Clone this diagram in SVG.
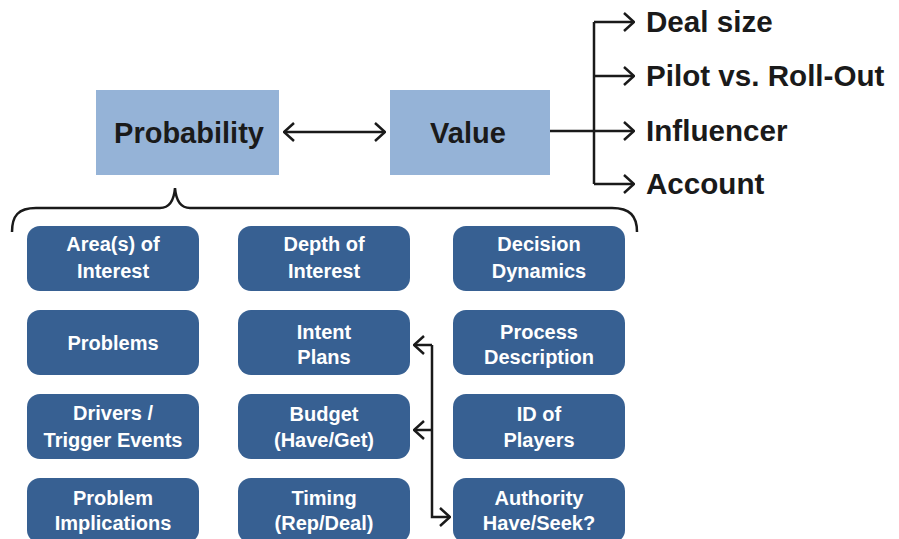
<svg xmlns="http://www.w3.org/2000/svg" width="899" height="539" viewBox="0 0 899 539">
<style>
.top{fill:#95b3d7}
.box{fill:#376092}
.t{font-family:"Liberation Sans",Arial,sans-serif;font-weight:bold;fill:#1a1a1a;font-size:29px}
.r{font-size:29.6px}
.bt{font-family:"Liberation Sans",Arial,sans-serif;font-weight:bold;fill:#ffffff;font-size:20px;text-anchor:middle}
.ln{fill:none;stroke:#1a1a1a;stroke-width:2.5}
</style>
<defs>
<marker id="ah" viewBox="0 0 12 20" refX="11" refY="10" markerWidth="12" markerHeight="20" markerUnits="userSpaceOnUse" orient="auto-start-reverse">
<path d="M1,1 L11,10 L1,19" fill="none" stroke="#1a1a1a" stroke-width="2.5"/>
</marker>
</defs>
<g id="probability"><rect class="top" x="96" y="90" width="183" height="85"/><text class="t" x="189" y="143" text-anchor="middle" font-size="30">Probability</text></g>
<g id="value"><rect class="top" x="390" y="90" width="160" height="85"/><text class="t" x="468" y="143" text-anchor="middle">Value</text></g>
<g id="deal-size"><text class="t r" x="646" y="32">Deal size</text></g>
<g id="pilot"><text class="t r" x="646" y="86">Pilot vs. Roll-Out</text></g>
<g id="influencer"><text class="t r" x="646" y="141">Influencer</text></g>
<g id="account"><text class="t r" x="646" y="194">Account</text></g>
<g id="area"><rect class="box" x="27" y="226" width="172" height="65" rx="13"/><text class="bt" x="113" y="251">Area(s) of</text><text class="bt" x="113" y="278">Interest</text></g>
<g id="problems"><rect class="box" x="27" y="310" width="172" height="65" rx="13"/><text class="bt" x="113" y="350">Problems</text></g>
<g id="drivers"><rect class="box" x="27" y="394" width="172" height="65" rx="13"/><text class="bt" x="113" y="420">Drivers /</text><text class="bt" x="113" y="447">Trigger Events</text></g>
<g id="implications"><rect class="box" x="27" y="478" width="172" height="65" rx="13"/><text class="bt" x="113" y="505">Problem</text><text class="bt" x="113" y="530">Implications</text></g>
<g id="depth"><rect class="box" x="238" y="226" width="172" height="65" rx="13"/><text class="bt" x="324" y="251">Depth of</text><text class="bt" x="324" y="278">Interest</text></g>
<g id="intent"><rect class="box" x="238" y="310" width="172" height="65" rx="13"/><text class="bt" x="324" y="339">Intent</text><text class="bt" x="324" y="364">Plans</text></g>
<g id="budget"><rect class="box" x="238" y="394" width="172" height="65" rx="13"/><text class="bt" x="324" y="421">Budget</text><text class="bt" x="324" y="447">(Have/Get)</text></g>
<g id="timing"><rect class="box" x="238" y="478" width="172" height="65" rx="13"/><text class="bt" x="324" y="505">Timing</text><text class="bt" x="324" y="530">(Rep/Deal)</text></g>
<g id="decision"><rect class="box" x="453" y="226" width="172" height="65" rx="13"/><text class="bt" x="539" y="251">Decision</text><text class="bt" x="539" y="278">Dynamics</text></g>
<g id="process"><rect class="box" x="453" y="310" width="172" height="65" rx="13"/><text class="bt" x="539" y="339">Process</text><text class="bt" x="539" y="364">Description</text></g>
<g id="players"><rect class="box" x="453" y="394" width="172" height="65" rx="13"/><text class="bt" x="539" y="421">ID of</text><text class="bt" x="539" y="447">Players</text></g>
<g id="authority"><rect class="box" x="453" y="478" width="172" height="65" rx="13"/><text class="bt" x="539" y="505">Authority</text><text class="bt" x="539" y="530">Have/Seek?</text></g>
<g id="connectors">
<path class="ln" d="M284,132 H385" marker-start="url(#ah)" marker-end="url(#ah)"/>
<path class="ln" d="M550,131 H594"/>
<path class="ln" d="M594,22 V184"/>
<path class="ln" d="M594,22 H634" marker-end="url(#ah)"/>
<path class="ln" d="M594,76 H634" marker-end="url(#ah)"/>
<path class="ln" d="M594,131 H634" marker-end="url(#ah)"/>
<path class="ln" d="M594,184 H634" marker-end="url(#ah)"/>
<path class="ln" d="M12,232 C12,216 18,208 36,208 H160 C170,208 174,200 175,188 C176,200 180,208 190,208 H612 C630,208 637,216 637,232"/>
<path class="ln" d="M432,345 H414" marker-end="url(#ah)"/>
<path class="ln" d="M432,345 V517 H450" marker-end="url(#ah)"/>
<path class="ln" d="M432,430 H414" marker-end="url(#ah)"/>
</g>
</svg>
